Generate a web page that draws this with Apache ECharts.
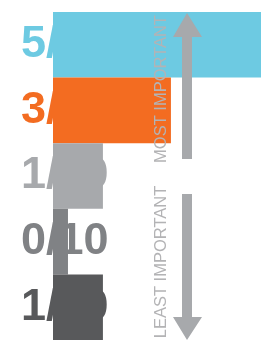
<!DOCTYPE html>
<html><head><meta charset="utf-8">
<script src="https://cdn.jsdelivr.net/npm/echarts@6/dist/echarts.min.js"></script>
<style>html,body{margin:0;padding:0;background:#fff}#c{width:261px;height:342px}</style>
</head><body><div id="c"></div>
<script>
const categories = ['5/10', '3/10', '1/10', '0/10', '1/10 '];
const values = [100, 56.7, 24, 7.2, 24];
const colors = ['#6DCAE2', '#F36C21', '#A7A9AC', '#808285', '#58595B'];

const chart = echarts.init(document.getElementById('c'));
chart.setOption({
  animation: false,
  grid: {left: 53, right: 0, top: 12, bottom: 2},
  xAxis: {type: 'value', min: 0, max: 100, show: false},
  yAxis: {
    type: 'category', data: categories, inverse: true,
    axisLine: {show: false}, axisTick: {show: false}, splitLine: {show: false},
    axisLabel: {
      margin: 32, align: 'left',
      fontFamily: 'Liberation Sans', fontWeight: 'bold', fontSize: 45,
      color: (v, i) => colors[i]
    }
  },
  series: [{
    type: 'bar', barCategoryGap: 0, z: 2,
    data: values.map((v, i) => ({value: v, itemStyle: {color: colors[i]}}))
  }],
  graphic: [
    {type: 'polygon', z: 10, shape: {points: [[182,159],[192,159],[192,37],[202,37],[187,13],[173,37],[182,37]]}, style: {fill: '#A7A9AC'}},
    {type: 'polygon', z: 10, shape: {points: [[182,194],[192,194],[192,317],[202,317],[187,340],[173,317],[182,317]]}, style: {fill: '#A7A9AC'}},
    {type: 'text', z: 11, x: 161, y: 89, rotation: Math.PI/2,
      style: {text: 'MOST IMPORTANT', fill: '#B3B3B5', font: '16.5px "Liberation Sans"', align: 'center', verticalAlign: 'middle'}},
    {type: 'text', z: 11, x: 161, y: 262, rotation: Math.PI/2,
      style: {text: 'LEAST IMPORTANT', fill: '#B3B3B5', font: '16.5px "Liberation Sans"', align: 'center', verticalAlign: 'middle'}}
  ]
});
</script></body></html>
